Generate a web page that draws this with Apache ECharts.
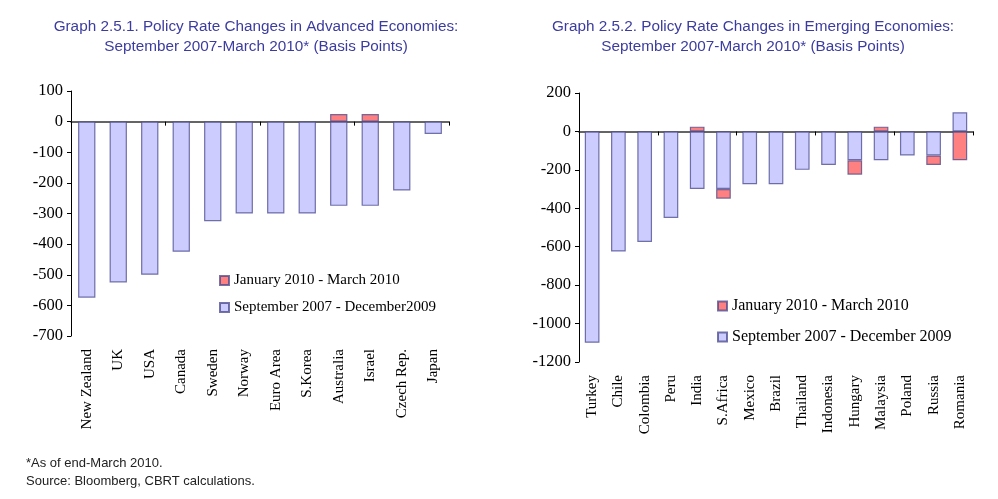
<!DOCTYPE html>
<html>
<head>
<meta charset="utf-8">
<script src="https://cdn.jsdelivr.net/npm/echarts@6/dist/echarts.min.js"></script>
<style>
  html, body { margin: 0; padding: 0; background: #fff; }
  #frame { position: relative; width: 998px; height: 499px; box-sizing: border-box;
           border-top: 2px solid #eeebdc; border-left: 4px solid #eeebdc; }
  #chart { position: absolute; left: -4px; top: -2px; width: 998px; height: 499px; }
</style>
</head>
<body>
<div id="frame"><div id="chart"></div></div>
<script>
// Advanced economies (basis points)
const advCountries = ['New Zealand', 'UK', 'USA', 'Canada', 'Sweden', 'Norway', 'Euro Area', 'S.Korea', 'Australia', 'Israel', 'Czech Rep.', 'Japan'];
const advSep07Dec09 = [-575, -525, -500, -425, -325, -300, -300, -300, -275, -275, -225, -40];
const advJanMar10 = [null, null, null, null, null, null, null, null, 25, 25, null, null];

// Emerging economies (basis points)
const emgCountries = ['Turkey', 'Chile', 'Colombia', 'Peru', 'India', 'S.Africa', 'Mexico', 'Brazil', 'Thailand', 'Indonesia', 'Hungary', 'Malaysia', 'Poland', 'Russia', 'Romania'];
const emgSep07Dec09 = [-1100, -625, -575, -450, -300, -300, -275, -275, -200, -175, -150, -150, -125, -125, 100];
const emgJanMar10 = [null, null, null, null, 25, -50, null, null, null, null, -75, 25, null, -50, -150];

const advTicks = { min: -700, max: 100, interval: 100 };
const emgTicks = { min: -1200, max: 200, interval: 200 };

const nameRed = 'January 2010 - March 2010';
const nameBlueAdv = 'September 2007 - December2009';
const nameBlueEmg = 'September 2007 - December 2009';

const serif = '"Liberation Serif", "Times New Roman", serif';
const sans = '"Liberation Sans", Arial, sans-serif';

const blueStyle = { color: '#ccccff', borderColor: 'rgba(70,70,140,0.75)', borderWidth: 1.2 };
const redStyle = { color: '#ff8080', borderColor: 'rgba(70,70,140,0.75)', borderWidth: 1.2 };

function zeroAxis(gridIndex, cats) {
  return {
    type: 'category', gridIndex, data: cats, position: 'bottom',
    axisLine: { onZero: true, lineStyle: { color: '#333', width: 1.5 } },
    axisTick: { show: true, length: 4, lineStyle: { color: '#000' } },
    axisLabel: { show: false }, splitLine: { show: false }
  };
}
function labelAxis(gridIndex, cats) {
  return {
    type: 'category', gridIndex, data: cats, position: 'bottom',
    axisLine: { show: false, onZero: false }, axisTick: { show: false },
    axisLabel: { rotate: 90, margin: 13, interval: 0, fontFamily: serif, fontSize: 15, color: '#000' },
    splitLine: { show: false }
  };
}
function valueAxis(gridIndex, t) {
  return {
    type: 'value', gridIndex, min: t.min, max: t.max, interval: t.interval,
    axisLine: { show: true, lineStyle: { color: '#000', width: 1 } },
    axisTick: { show: true, length: 4, lineStyle: { color: '#000' } },
    axisLabel: { margin: 8, fontFamily: serif, fontSize: 16.5, color: '#000', formatter: v => String(v) },
    splitLine: { show: false }
  };
}

const titleStyle = { color: '#3c3ca0', fontFamily: sans, fontSize: 15.3, fontWeight: 'normal', lineHeight: 20 };

const chart = echarts.init(document.getElementById('chart'));
chart.setOption({
  animation: false,
  backgroundColor: '#fff',
  title: [
    { text: 'Graph 2.5.1. Policy Rate Changes in Advanced Economies:\nSeptember 2007-March 2010* (Basis Points)',
      left: 251, top: 12, textAlign: 'center', textStyle: titleStyle },
    { text: 'Graph 2.5.2. Policy Rate Changes in Emerging Economies:\nSeptember 2007-March 2010* (Basis Points)',
      left: 748, top: 12, textAlign: 'center', textStyle: titleStyle }
  ],
  legend: [
    { orient: 'vertical', left: 219, top: 273, padding: 0, itemWidth: 9, itemHeight: 9, itemGap: 12, icon: 'rect',
      data: [nameRed, nameBlueAdv], selectedMode: false,
      textStyle: { fontFamily: serif, fontSize: 15, color: '#000' } },
    { orient: 'vertical', left: 717, top: 298, padding: 0, itemWidth: 9, itemHeight: 9, itemGap: 15, icon: 'rect',
      data: [nameRed, nameBlueEmg], selectedMode: false,
      textStyle: { fontFamily: serif, fontSize: 16, color: '#000' } }
  ],
  grid: [
    { left: 71, top: 91, width: 378, height: 245 },
    { left: 579, top: 93, width: 394, height: 269 }
  ],
  xAxis: [zeroAxis(0, advCountries), labelAxis(0, advCountries), zeroAxis(1, emgCountries), labelAxis(1, emgCountries)],
  yAxis: [valueAxis(0, advTicks), valueAxis(1, emgTicks)],
  series: [
    { name: nameBlueAdv, type: 'bar', stack: 'adv', xAxisIndex: 0, yAxisIndex: 0, barWidth: '55%',
      itemStyle: blueStyle, data: advSep07Dec09 },
    { name: nameRed, type: 'bar', stack: 'adv', xAxisIndex: 0, yAxisIndex: 0, barWidth: '55%',
      itemStyle: redStyle, data: advJanMar10 },
    { name: nameBlueEmg, type: 'bar', stack: 'emg', xAxisIndex: 2, yAxisIndex: 1, barWidth: '56%',
      itemStyle: blueStyle, data: emgSep07Dec09 },
    { name: nameRed, type: 'bar', stack: 'emg', xAxisIndex: 2, yAxisIndex: 1, barWidth: '56%',
      itemStyle: redStyle, data: emgJanMar10 }
  ],
  graphic: [
    { type: 'text', left: 26, top: 454,
      style: { text: '*As of end-March 2010.\nSource: Bloomberg, CBRT calculations.', fill: '#222',
               font: '13px "Liberation Sans", Arial, sans-serif', lineHeight: 18 } }
  ]
});
</script>
</body>
</html>
